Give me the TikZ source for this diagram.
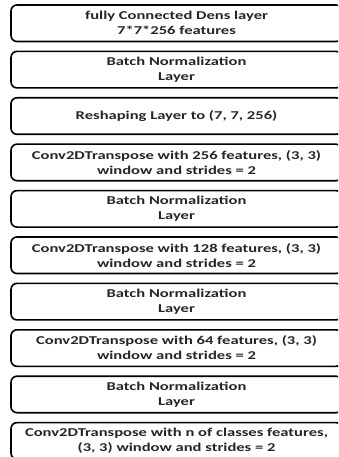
\documentclass[tikz,border=0pt]{standalone}
\usepackage{fontspec}
\setmainfont{Carlito}
\usepackage{graphicx}
\newcommand{\sx}[1]{\scalebox{1.38}[1]{#1}}
\begin{document}
\begin{tikzpicture}[x=1pt,y=-1pt,
  layerbox/.style={draw=black, line width=1.6pt, rounded corners=6pt,
    minimum width=331pt, minimum height=36.5pt, inner sep=0pt,
    align=center, text=black!85,
    font=\fontsize{12}{15}\selectfont\bfseries}]
\useasboundingbox (0,0) rectangle (338,457);
\clip (0,0) rectangle (338,457);
\fill[white] (0,0) rectangle (338,457);
\node[layerbox] (l1) at (176.5, 23.25) {\sx{fully Connected Dens layer}\\\sx{7*7*256 features}};
\node[layerbox] (l2) at (176.5, 69.65) {\sx{Batch Normalization}\\\sx{Layer}};
\node[layerbox] (l3) at (176.5, 116.05) {\sx{Reshaping Layer to (7, 7, 256)}};
\node[layerbox] (l4) at (176.5, 162.45) {\sx{Conv2DTranspose with 256 features, (3, 3)}\\\sx{window and strides = 2}};
\node[layerbox] (l5) at (176.5, 208.85) {\sx{Batch Normalization}\\\sx{Layer}};
\node[layerbox] (l6) at (176.5, 255.25) {\sx{Conv2DTranspose with 128 features, (3, 3)}\\\sx{window and strides = 2}};
\node[layerbox] (l7) at (176.5, 301.65) {\sx{Batch Normalization}\\\sx{Layer}};
\node[layerbox] (l8) at (176.5, 348.05) {\sx{Conv2DTranspose with 64 features, (3, 3)}\\\sx{window and strides = 2}};
\node[layerbox] (l9) at (176.5, 394.45) {\sx{Batch Normalization}\\\sx{Layer}};
\node[layerbox] (l10) at (176.5, 440.85) {\sx{Conv2DTranspose with n of classes features,}\\\sx{(3, 3) window and strides = 2}};
\end{tikzpicture}
\end{document}
